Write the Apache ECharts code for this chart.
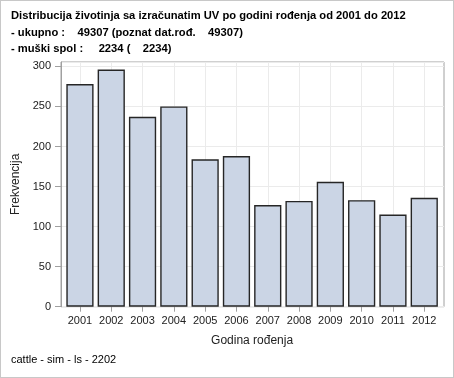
<!DOCTYPE html>
<html>
<head>
<meta charset="utf-8">
<script src="https://cdn.jsdelivr.net/npm/echarts@6/dist/echarts.min.js"></script>
<style>
html,body{margin:0;padding:0;background:#fff;}
#wrap{position:relative;width:454px;height:378px;}
#chart{position:absolute;left:0;top:0;width:454px;height:378px;}
#frame{position:absolute;left:0;top:0;width:454px;height:378px;box-sizing:border-box;border:1px solid #c8c8c8;pointer-events:none;}
</style>
</head>
<body>
<div id="wrap"><div id="chart"></div><div id="frame"></div></div>
<script>
const categories = ['2001','2002','2003','2004','2005','2006','2007','2008','2009','2010','2011','2012'];
const frekvencija = [278, 296, 237, 250, 184, 188, 127, 132, 156, 133, 115, 136];
const titleLines = [
  'Distribucija životinja sa izračunatim UV po godini rođenja od 2001 do 2012',
  '- ukupno :    49307 (poznat dat.rođ.    49307)',
  '- muški spol :     2234 (    2234)'
];
const footnote = 'cattle - sim - ls - 2202';
const xName = 'Godina rođenja';
const yName = 'Frekvencija';

const FONT = '"Liberation Sans", Arial, sans-serif';
const yMax = 305.5;

const chart = echarts.init(document.getElementById('chart'), null, {renderer: 'canvas'});
chart.setOption({
  animation: false,
  backgroundColor: '#ffffff',
  title: [
    {
      text: titleLines.join('\n'),
      left: 6, top: 3,
      textStyle: {fontFamily: FONT, fontSize: 11.2, fontWeight: 'bold', color: '#000', lineHeight: 16.5}
    },
    {
      text: footnote,
      left: 6, top: 348.5,
      textStyle: {fontFamily: FONT, fontSize: 11, fontWeight: 'normal', color: '#000', lineHeight: 13}
    }
  ],
  grid: [
    {left: 61, top: 62, width: 383, bottom: 71.3, show: true, borderColor: '#a0a0a0', borderWidth: 1, backgroundColor: '#fff', containLabel: false},
    {left: 64.3, top: 62, width: 375.6, bottom: 71.3, containLabel: false}
  ],
  xAxis: [
    {gridIndex: 0, type: 'value', show: false, min: 0, max: 1},
    {
      gridIndex: 1, type: 'category', data: categories, boundaryGap: true,
      name: xName, nameLocation: 'middle', nameGap: 28,
      nameTextStyle: {fontFamily: FONT, fontSize: 12, color: '#222'},
      axisLine: {show: false},
      axisTick: {show: true, alignWithLabel: true, length: 5, lineStyle: {color: '#a0a0a0'}},
      splitLine: {show: true, alignWithLabel: true, lineStyle: {color: '#ebebeb', width: 1}},
      axisLabel: {fontFamily: FONT, fontSize: 11, color: '#222', margin: 9, interval: 0}
    }
  ],
  yAxis: [
    {
      gridIndex: 0, type: 'value', min: 0, max: yMax, interval: 50,
      name: yName, nameLocation: 'middle', nameGap: 39,
      nameTextStyle: {fontFamily: FONT, fontSize: 12, color: '#222'},
      axisLine: {show: true, lineStyle: {color: '#a0a0a0'}},
      axisTick: {show: true, length: 6, lineStyle: {color: '#a0a0a0'}},
      axisLabel: {fontFamily: FONT, fontSize: 11, color: '#222', margin: 10, showMaxLabel: false},
      splitLine: {show: true, lineStyle: {color: '#ebebeb', width: 1}}
    },
    {gridIndex: 1, type: 'value', min: 0, max: yMax, show: false, splitLine: {show: false}}
  ],
  series: [
    {
      type: 'bar', xAxisIndex: 1, yAxisIndex: 1,
      data: frekvencija,
      barCategoryGap: '13%',
      itemStyle: {color: '#cbd5e5', borderColor: '#262626', borderWidth: 1.4}
    }
  ]
});
</script>
</body>
</html>
